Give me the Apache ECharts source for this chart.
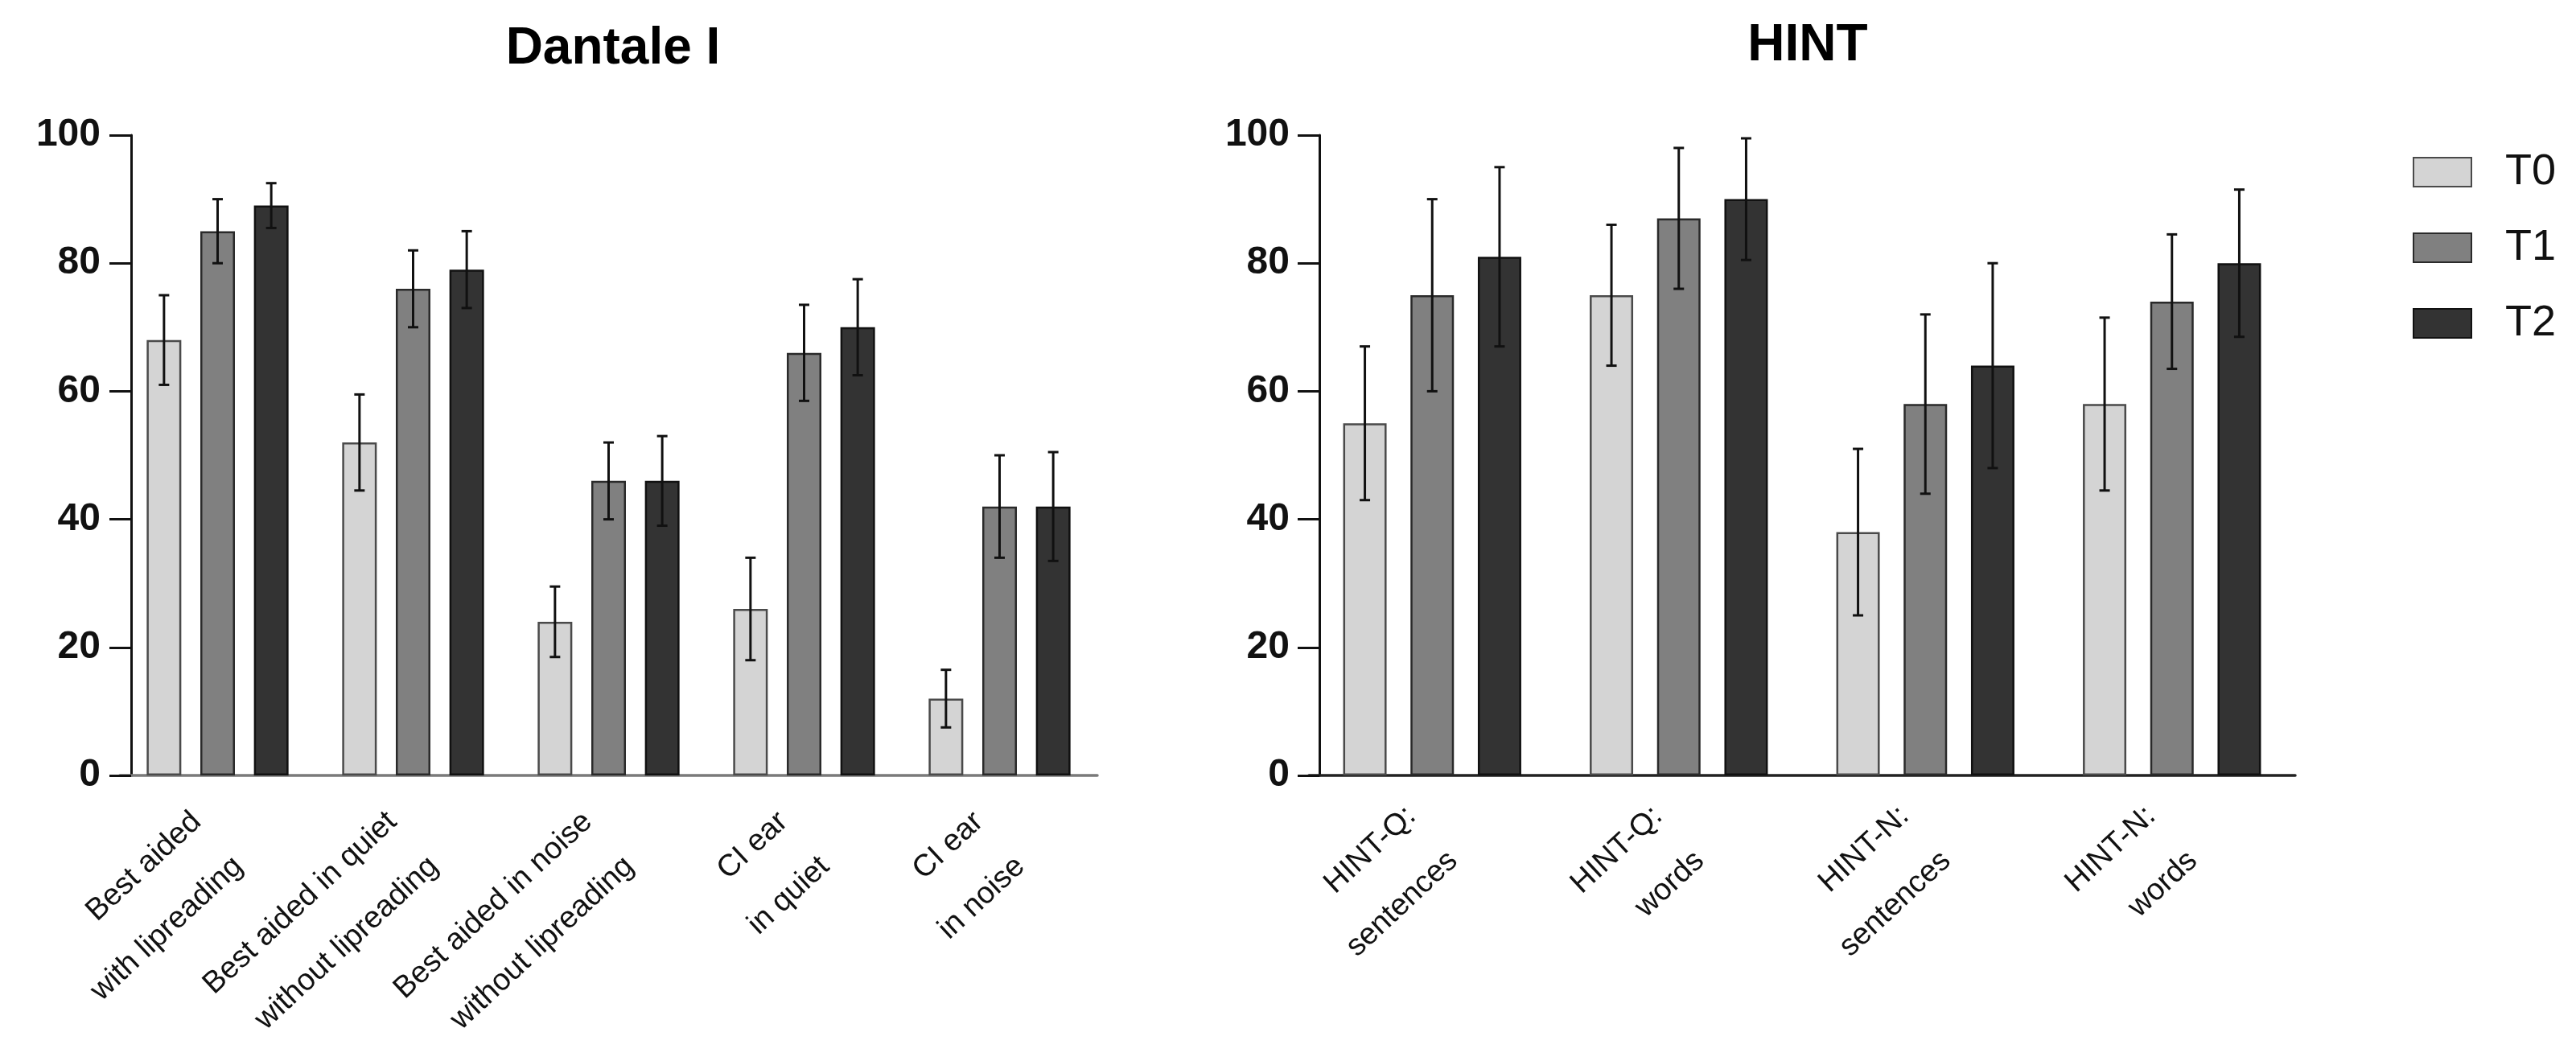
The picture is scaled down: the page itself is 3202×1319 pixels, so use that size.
<!DOCTYPE html>
<html>
<head>
<meta charset="utf-8">
<script src="https://cdn.jsdelivr.net/npm/echarts@6/dist/echarts.min.js"></script>
<style>
html,body{margin:0;padding:0;background:#fff;}
#chart{width:3202px;height:1319px;}
</style>
</head>
<body>
<div id="chart"></div>
<script>
// ---- data ----
const seriesNames = ['T0', 'T1', 'T2'];
const yTicks = [0, 20, 40, 60, 80, 100];

const dantaleCategories = [
  'Best aided\nwith lipreading',
  'Best aided in quiet\nwithout lipreading',
  'Best aided in noise\nwithout lipreading',
  'CI ear\nin quiet',
  'CI ear\nin noise'
];
const dantaleT0 = [68, 52, 24, 26, 12];
const dantaleT0sd = [7, 7.5, 5.5, 8, 4.5];
const dantaleT1 = [85, 76, 46, 66, 42];
const dantaleT1sd = [5, 6, 6, 7.5, 8];
const dantaleT2 = [89, 79, 46, 70, 42];
const dantaleT2sd = [3.5, 6, 7, 7.5, 8.5];

const hintCategories = [
  'HINT-Q:\nsentences',
  'HINT-Q:\nwords',
  'HINT-N:\nsentences',
  'HINT-N:\nwords'
];
const hintT0 = [55, 75, 38, 58];
const hintT0sd = [12, 11, 13, 13.5];
const hintT1 = [75, 87, 58, 74];
const hintT1sd = [15, 11, 14, 10.5];
const hintT2 = [81, 90, 64, 80];
const hintT2sd = [14, 9.5, 16, 11.5];

// ---- styles ----
const FONT = "'Liberation Sans', Arial, Helvetica, sans-serif";
const fills = ['#d4d4d4', '#808080', '#333333'];
const borders = ['#4a4a4a', '#2a2a2a', '#111111'];
const leftBarW = 43, rightBarW = 54, barGapPct = 0.55;

const chart = echarts.init(document.getElementById('chart'), null, {renderer: 'canvas'});

function barSeries(name, k, axis, data, w) {
  return {
    name: name, type: 'bar', xAxisIndex: axis, yAxisIndex: axis,
    data: data, barWidth: w, barGap: (barGapPct * 100) + '%',
    itemStyle: {color: fills[k], borderColor: borders[k], borderWidth: 2.5},
    silent: true
  };
}

function errSeries(axis, vals, sds, k, w) {
  const step = w * (1 + barGapPct);
  return {
    type: 'custom', xAxisIndex: axis, yAxisIndex: axis, z: 10, silent: true,
    encode: {x: 0, y: [1, 2]},
    data: vals.map((v, i) => [i, v - sds[i], v + sds[i]]),
    renderItem: function (params, api) {
      const x = api.value(0);
      const lo = api.coord([x, api.value(1)]);
      const hi = api.coord([x, api.value(2)]);
      const cx = lo[0] + (k - 1) * step;
      const cap = 6.5;
      const st = {stroke: '#111', lineWidth: 3};
      return {
        type: 'group',
        children: [
          {type: 'line', shape: {x1: cx, y1: lo[1], x2: cx, y2: hi[1]}, style: st},
          {type: 'line', shape: {x1: cx - cap, y1: lo[1], x2: cx + cap, y2: lo[1]}, style: st},
          {type: 'line', shape: {x1: cx - cap, y1: hi[1], x2: cx + cap, y2: hi[1]}, style: st}
        ]
      };
    }
  };
}

function xAxisCfg(idx, cats, lineColor, margin, padTop) {
  return {
    type: 'category', gridIndex: idx, data: cats,
    axisLine: {lineStyle: {color: lineColor, width: 3.5}},
    axisTick: {alignWithLabel: true, length: 26, lineStyle: {color: '#444', width: 2.5}},
    axisLabel: {
      interval: 0, rotate: 43, margin: margin, padding: [padTop, 0, 0, 0],
      fontFamily: FONT, fontSize: 38, color: '#111', lineHeight: 76
    }
  };
}

function yAxisCfg(idx, offset, margin) {
  return {
    type: 'value', gridIndex: idx, min: yTicks[0], max: yTicks[yTicks.length - 1],
    interval: yTicks[1] - yTicks[0], offset: offset,
    splitLine: {show: false},
    axisLine: {show: true, lineStyle: {color: '#111', width: 3}},
    axisTick: {show: true, length: 27, lineStyle: {color: '#111', width: 3}},
    axisLabel: {fontFamily: FONT, fontSize: 48, fontWeight: 'bold', color: '#111', margin: margin}
  };
}

const option = {
  backgroundColor: '#fff',
  animation: false,
  title: [
    {text: 'Dantale I', left: 757, top: 56, textAlign: 'center', textVerticalAlign: 'middle',
     textStyle: {fontFamily: FONT, fontSize: 64, fontWeight: 'bold', color: '#000'}},
    {text: 'HINT', left: 2242, top: 52, textAlign: 'center', textVerticalAlign: 'middle',
     textStyle: {fontFamily: FONT, fontSize: 64, fontWeight: 'bold', color: '#000'}}
  ],
  legend: {
    data: seriesNames, orient: 'vertical', left: 2994, top: 182,
    itemWidth: 72, itemHeight: 36, itemGap: 40, icon: 'rect', selectedMode: false,
    textStyle: {fontFamily: FONT, fontSize: 54, color: '#111', padding: [0, 0, 0, 37]}
  },
  grid: [
    {left: 149, right: 3202 - 1364, top: 168, bottom: 1319 - 964, outerBoundsMode: 'none', containLabel: false},
    {left: 1627, right: 3202 - 2853, top: 168, bottom: 1319 - 964, outerBoundsMode: 'none', containLabel: false}
  ],
  xAxis: [
    xAxisCfg(0, dantaleCategories, '#7a7a7a', 80, 78),
    xAxisCfg(1, hintCategories, '#222', 73, 86)
  ],
  yAxis: [
    yAxisCfg(0, -14, 38),
    yAxisCfg(1, -13, 37)
  ],
  series: [
    barSeries('T0', 0, 0, dantaleT0, leftBarW),
    barSeries('T1', 1, 0, dantaleT1, leftBarW),
    barSeries('T2', 2, 0, dantaleT2, leftBarW),
    barSeries('T0', 0, 1, hintT0, rightBarW),
    barSeries('T1', 1, 1, hintT1, rightBarW),
    barSeries('T2', 2, 1, hintT2, rightBarW),
    errSeries(0, dantaleT0, dantaleT0sd, 0, leftBarW),
    errSeries(0, dantaleT1, dantaleT1sd, 1, leftBarW),
    errSeries(0, dantaleT2, dantaleT2sd, 2, leftBarW),
    errSeries(1, hintT0, hintT0sd, 0, rightBarW),
    errSeries(1, hintT1, hintT1sd, 1, rightBarW),
    errSeries(1, hintT2, hintT2sd, 2, rightBarW)
  ]
};
chart.setOption(option);
</script>
</body>
</html>
